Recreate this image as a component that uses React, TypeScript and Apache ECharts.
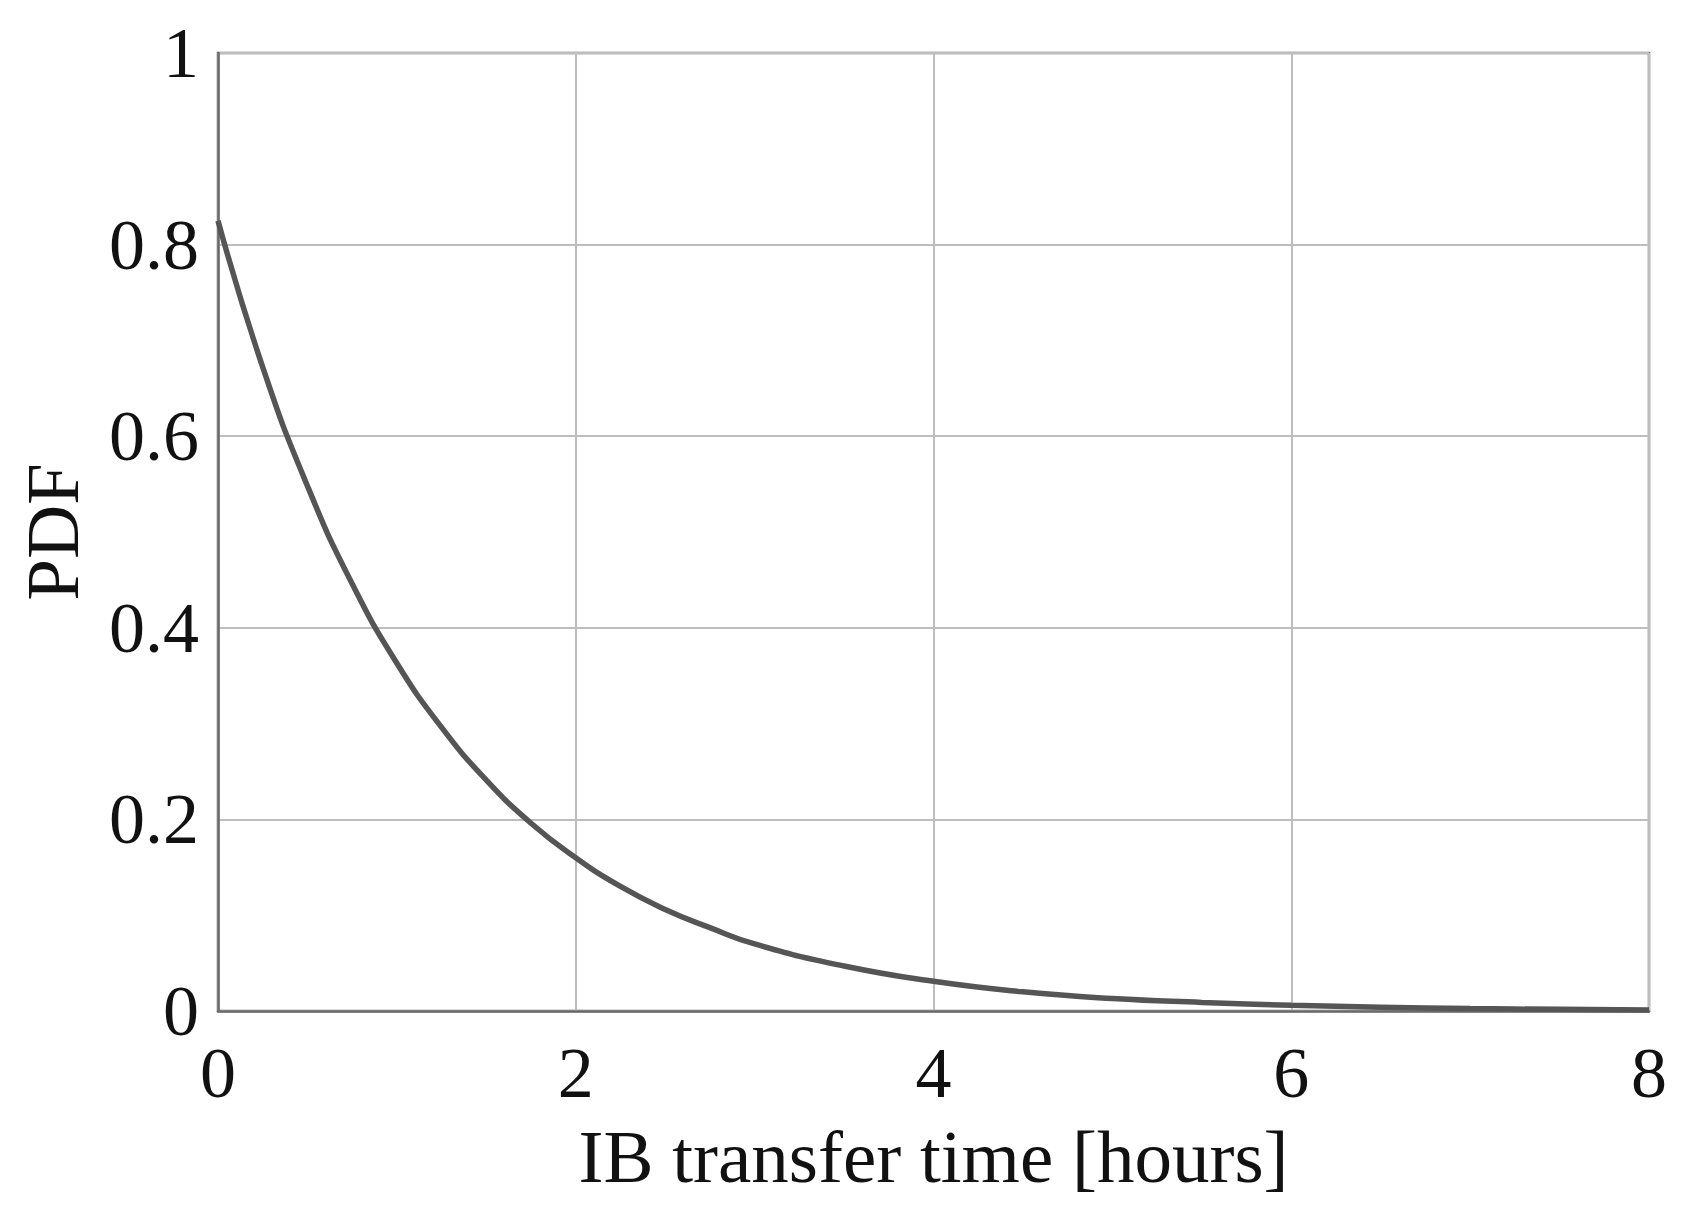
import React, { useEffect, useRef } from "react";
import * as echarts from "echarts";

const timeHours = [0, 0.25, 0.5, 0.75, 1, 1.25, 1.5, 1.75, 2, 2.25, 2.5, 2.75, 3, 3.5, 4, 4.5, 5, 5.5, 6, 6.5, 7, 7.5, 8];
const pdfValues = [0.825, 0.672, 0.548, 0.446, 0.363, 0.296, 0.241, 0.196, 0.16, 0.13, 0.106, 0.087, 0.07, 0.047, 0.031, 0.02, 0.013, 0.009, 0.006, 0.004, 0.0025, 0.0017, 0.001];

const xTitle = "IB transfer time [hours]";
const yTitle = "PDF";

const FONT = "Liberation Serif";

export default function App() {
  const ref = useRef<HTMLDivElement>(null);
  useEffect(() => {
    document.body.style.margin = "0";
    const chart = echarts.init(ref.current!, null, { renderer: "svg" });
    const data = timeHours.map((t, i) => [t, pdfValues[i]]);
    chart.setOption({
      animation: false,
      backgroundColor: "#ffffff",
      grid: {
        left: 218,
        right: 35,
        top: 53,
        bottom: 219,
        show: true,
        borderColor: "#6a6a6a",
        borderWidth: 2.5,
      },
      xAxis: {
        type: "value",
        min: 0,
        max: 8,
        interval: 2,
        name: xTitle,
        nameLocation: "middle",
        nameGap: 108,
        nameTextStyle: { fontFamily: FONT, fontSize: 75, color: "#111" },
        axisLine: { show: true, lineStyle: { color: "#6a6a6a", width: 2.5 } },
        axisTick: { show: false },
        axisLabel: { fontFamily: FONT, fontSize: 72, color: "#111", margin: 26 },
        splitLine: { show: true, lineStyle: { color: "#bdbdbd", width: 2 } },
      },
      yAxis: {
        type: "value",
        min: 0,
        max: 1,
        interval: 0.2,
        name: yTitle,
        nameLocation: "middle",
        nameGap: 128,
        nameTextStyle: { fontFamily: FONT, fontSize: 75, color: "#111" },
        axisLine: { show: true, lineStyle: { color: "#6a6a6a", width: 2.5 } },
        axisTick: { show: false },
        axisLabel: { fontFamily: FONT, fontSize: 72, color: "#111", margin: 19 },
        splitLine: { show: true, lineStyle: { color: "#bdbdbd", width: 2 } },
      },
      series: [
        {
          type: "line",
          data,
          smooth: 0.5,
          showSymbol: false,
          lineStyle: { color: "#555555", width: 5.5 },
        },
      ],
    });
    return () => chart.dispose();
  }, []);
  return <div ref={ref} style={{ width: 1684, height: 1230 }} />;
}
